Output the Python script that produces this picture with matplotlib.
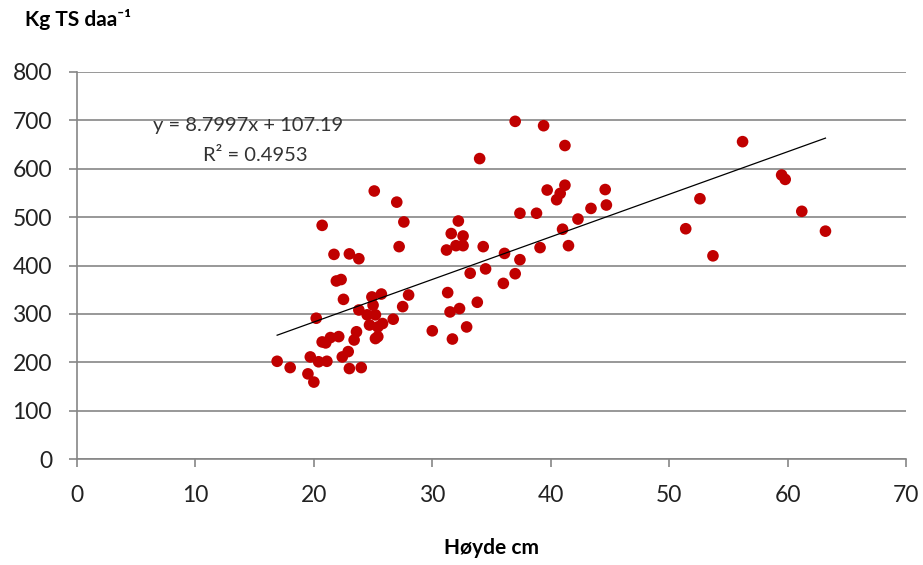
# scatter of dry matter yield vs plant height, with linear trend line
import numpy as np
import matplotlib.pyplot as plt

plt.rcParams['font.family'] = ['Lato', 'DejaVu Sans']

# data: height [cm], yield [kg TS/daa]
hoyde = [16.9, 18.0, 19.5, 20.0, 19.7, 20.4, 21.1, 20.2, 20.7, 21.0,
         21.4, 22.1, 20.7, 21.7, 21.9, 22.3, 22.5, 22.4, 22.9, 23.0,
         24.0, 23.0, 23.8, 23.6, 23.4, 23.8, 24.5, 24.9, 25.0, 25.2,
         24.7, 25.4, 25.8, 25.2, 25.4, 25.7, 25.1, 26.7, 27.0, 27.2,
         27.6, 27.5, 28.0, 30.0, 31.2, 31.3, 31.5, 31.7, 31.6, 32.0,
         32.6, 32.2, 32.6, 32.3, 32.9, 33.2, 33.8, 34.0, 34.3, 34.5,
         36.0, 36.1, 37.0, 37.0, 37.4, 37.4, 38.8, 39.1, 39.4, 39.7,
         40.5, 40.8, 41.2, 41.2, 41.0, 41.5, 42.3, 43.4, 44.6, 44.7,
         51.4, 52.6, 53.7, 56.2, 59.5, 59.8, 61.2, 63.2]
kg_ts = [202, 189, 176, 159, 211, 201, 202, 291, 242, 240,
         251, 253, 483, 423, 368, 371, 330, 211, 222, 187,
         189, 424, 414, 263, 246, 308, 298, 335, 318, 298,
         277, 273, 280, 249, 253, 341, 554, 289, 531, 439,
         490, 315, 339, 265, 432, 344, 304, 248, 466, 441,
         441, 492, 461, 311, 273, 384, 324, 621, 439, 393,
         363, 425, 383, 698, 412, 508, 508, 437, 689, 556,
         536, 549, 566, 648, 475, 441, 496, 518, 557, 525,
         476, 538, 420, 656, 587, 578, 512, 471]

# trend line from the chart
slope = 8.7997
intercept = 107.19
r2 = 0.4953

fig = plt.figure(figsize=(9.23, 5.65), dpi=100)
ax = fig.add_axes([77/923, 1-459/565, 829/923, 387/565])

gray = '#868686'
ax.scatter(hoyde, kg_ts, s=70, color='#C00000', edgecolors='none', zorder=3)

xl = np.array([min(hoyde), max(hoyde)])
ax.plot(xl, slope*xl + intercept, color='black', lw=0.9, zorder=4)

ax.set_xlim(0, 70)
ax.set_ylim(0, 800)
ax.set_xticks(range(0, 71, 10))
ax.set_yticks(range(0, 801, 100))
ax.yaxis.grid(True, color=gray, lw=1.2)
ax.set_axisbelow(True)
for s in ['top', 'right']:
    ax.spines[s].set_visible(False)
for s in ['left', 'bottom']:
    ax.spines[s].set_color(gray)
    ax.spines[s].set_linewidth(1.2)
ax.tick_params(axis='both', colors=gray, length=6, width=1.2,
               labelsize=16.5, labelcolor='#222222')
ax.tick_params(axis='x', pad=13)
ax.tick_params(axis='y', pad=12)

ax.text(6.4, 690, 'y = %.4fx + %.2f' % (slope, intercept), fontsize=14.5,
        color='#333333', va='center')
ax.text(10.6, 628, 'R\u00b2 = %.4f' % r2, fontsize=14.5, color='#333333',
        va='center')

fig.text(25/923, 1-20/565, 'Kg TS daa\u207b\u00b9', fontsize=15,
         fontweight='bold', va='center', ha='left')
fig.text(491/923, 1-548/565, 'Høyde cm', fontsize=15,
         fontweight='bold', va='center', ha='center')

fig.savefig('out.png', dpi=100)
